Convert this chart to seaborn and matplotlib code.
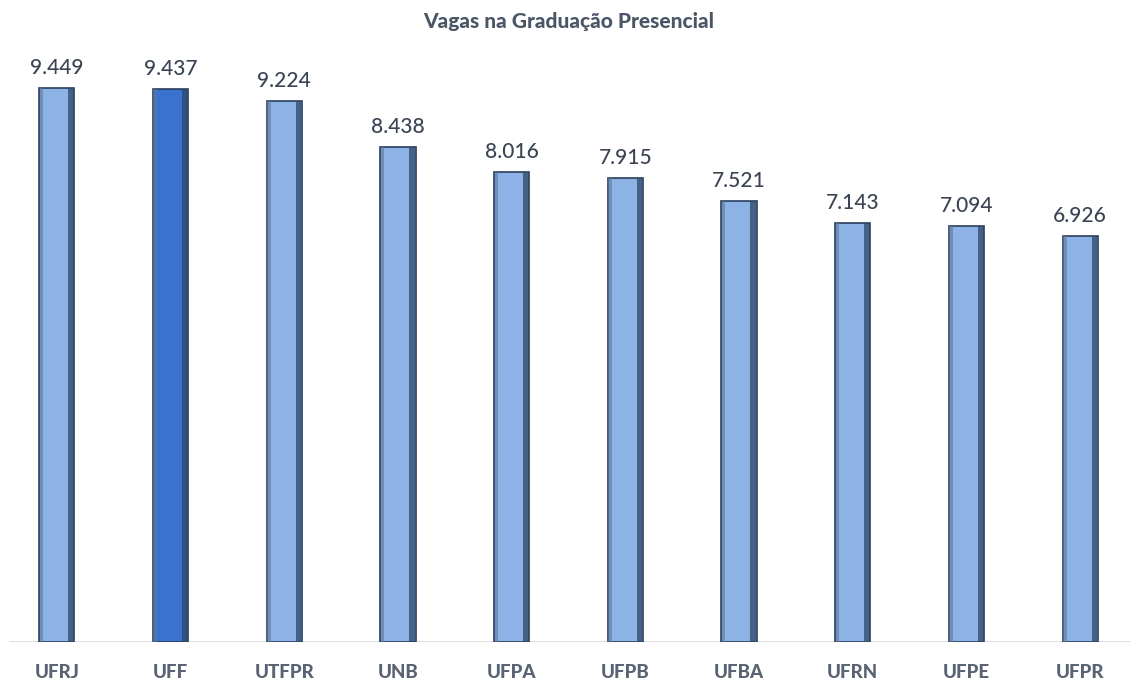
import matplotlib
matplotlib.use("Agg")
import matplotlib.pyplot as plt
from matplotlib import font_manager as fm
import seaborn as sns
import pandas as pd

universidades = ["UFRJ", "UFF", "UTFPR", "UNB", "UFPA", "UFPB", "UFBA", "UFRN", "UFPE", "UFPR"]
vagas = [9449, 9437, 9224, 8438, 8016, 7915, 7521, 7143, 7094, 6926]
destaque = ["não", "sim", "não", "não", "não", "não", "não", "não", "não", "não"]
titulo = "Vagas na Graduação Presencial"

sns.set_style("white")
plt.rcParams["font.family"] = ["Lato", "DejaVu Sans"]


def lato(fname_part, size):
    for f in fm.fontManager.ttflist:
        if f.fname.endswith(fname_part):
            return fm.FontProperties(fname=f.fname, size=size)
    return fm.FontProperties(family="Lato", weight="bold", size=size)


fp_tick = lato("Lato-Heavy.ttf", 13.5)
fp_title = lato("Lato-Heavy.ttf", 15)
fp_val = lato("Lato-Medium.ttf", 15)

df = pd.DataFrame({"uni": universidades, "vagas": vagas, "destaque": destaque})

fig = plt.figure(figsize=(11.37, 6.8), dpi=100)
ax = fig.add_axes([0.0, 0.0559, 1.0, 0.862])

palette = {"não": "#8DB3E6", "sim": "#3A72CF"}
sns.barplot(data=df, x="uni", y="vagas", hue="destaque", palette=palette,
            width=0.31, legend=False, ax=ax, edgecolor="#2B3E5C", linewidth=1.2,
            saturation=1)

# 3D-like shading strips
xs = list(range(len(universidades)))
ax.bar([x + 0.125 for x in xs], vagas, width=0.05, color="#2E4666", alpha=0.75, linewidth=0)
ax.bar([x - 0.135 for x in xs], vagas, width=0.03, color="#5D7899", alpha=0.6, linewidth=0)

for x, v in zip(xs, vagas):
    ax.text(x, v + 170, f"{v:,}".replace(",", "."), ha="center", va="bottom",
            fontproperties=fp_val, color="#3A4454")

ax.axhline(0, xmin=0.009, xmax=0.994, color="#D9D9D9", linewidth=1.2, zorder=0)

ax.set_xlim(-0.5, 9.5)
ax.set_ylim(0, 10000)
ax.set_xlabel("")
ax.set_ylabel("")
ax.set_yticks([])
ax.set_xticks(xs)
ax.set_xticklabels(universidades)
for lbl in ax.get_xticklabels():
    lbl.set_fontproperties(fp_tick)
    lbl.set_color("#5A6372")
ax.tick_params(axis="x", length=0, pad=16)
for s in ax.spines.values():
    s.set_visible(False)

fig.text(0.5, 0.968, titulo, ha="center", va="center", fontproperties=fp_title,
         color="#4A5566")

fig.savefig("out.png", dpi=100, facecolor="white")
